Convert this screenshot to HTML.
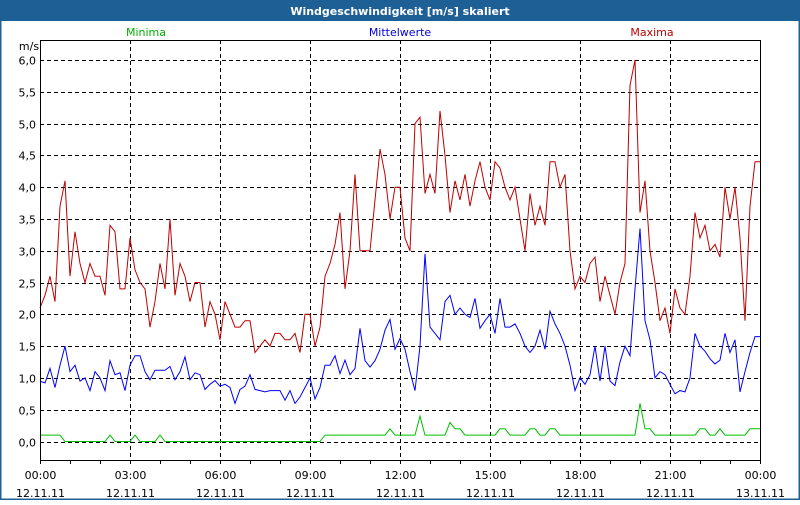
<!DOCTYPE html>
<html><head><meta charset="utf-8"><style>
html,body{margin:0;padding:0;background:#fff}
svg text{font-family:"DejaVu Sans","Liberation Sans",sans-serif;font-size:11px}
</style></head><body>
<svg id="c" width="800" height="500" xmlns="http://www.w3.org/2000/svg">
<rect x="0" y="0" width="800" height="500" fill="#fff"/>
<rect x="0.5" y="0.5" width="799" height="499" fill="none" stroke="#1e6096" stroke-width="2"/>
<rect x="0" y="0" width="800" height="21" fill="#1e6096"/>
<text x="400" y="15" text-anchor="middle" fill="#fff" font-weight="bold">Windgeschwindigkeit [m/s] skaliert</text>
<text x="146" y="36" text-anchor="middle" fill="#00b000">Minima</text>
<text x="400" y="36" text-anchor="middle" fill="#0000e0">Mittelwerte</text>
<text x="652" y="36" text-anchor="middle" fill="#c00000">Maxima</text>
<text x="29" y="50" text-anchor="middle" fill="#000">m/s</text>
<g id="grid"></g><g id="series"></g><g id="axes"></g>
</svg>
<script>
const yTicks=[0,0.5,1,1.5,2,2.5,3,3.5,4,4.5,5,5.5,6];
const xTickHours=[0,3,6,9,12,15,18,21,24];
const xTimeLabels=["00:00","03:00","06:00","09:00","12:00","15:00","18:00","21:00","00:00"];
const xDateLabels=["12.11.11","12.11.11","12.11.11","12.11.11","12.11.11","12.11.11","12.11.11","12.11.11","13.11.11"];
const maxima=[2.1,2.3,2.6,2.2,3.7,4.1, 2.6,3.3,2.8,2.5,2.8,2.6, 2.6,2.3,3.4,3.3,2.4,2.4, 3.2,2.7,2.5,2.4,1.8,2.2, 2.8,2.4,3.5,2.3,2.8,2.6, 2.2,2.5,2.5,1.8,2.2,2.0, 1.6,2.2,2.0,1.8,1.8,1.9, 1.9,1.4,1.5,1.6,1.5,1.7, 1.7,1.6,1.6,1.7,1.4,2.0, 2.0,1.5,1.8,2.6,2.8,3.1, 3.6,2.4,3.0,4.2,3.0,3.0, 3.0,3.8,4.6,4.2,3.5,4.0, 4.0,3.2,3.0,5.0,5.1,3.9, 4.2,3.9,5.2,4.5,3.6,4.1, 3.8,4.2,3.7,4.1,4.4,4.0, 3.8,4.4,4.3,4.0,3.8,4.0, 3.5,3.0,3.9,3.4,3.7,3.4, 4.4,4.4,4.0,4.2,3.0,2.4, 2.6,2.5,2.8,2.9,2.2,2.6, 2.3,2.0,2.5,2.8,5.6,6.0, 3.6,4.1,3.0,2.5,1.9,2.1, 1.7,2.4,2.1,2.0,2.6,3.6, 3.2,3.4,3.0,3.1,2.9,4.0, 3.5,4.0,3.2,1.9,3.7,4.4, 4.4];
const mittel=[0.95,0.92,1.15,0.85,1.2,1.5, 1.1,1.2,0.95,1.0,0.8,1.1, 1.0,0.8,1.27,1.05,1.08,0.8, 1.2,1.35,1.35,1.1,0.97,1.12, 1.12,1.12,1.18,0.97,1.1,1.33, 0.97,1.08,1.05,0.82,0.9,0.96, 0.87,0.9,0.85,0.6,0.82,0.87, 1.05,0.82,0.8,0.78,0.8,0.8, 0.8,0.65,0.8,0.6,0.7,0.85, 1.0,0.67,0.85,1.2,1.2,1.35, 1.07,1.28,1.05,1.15,1.78,1.27, 1.17,1.27,1.45,1.75,1.92,1.45, 1.62,1.45,1.1,0.8,1.5,2.95, 1.8,1.7,1.6,2.2,2.3,2.0, 2.1,2.0,1.95,2.25,1.78,1.9, 2.0,1.7,2.25,1.8,1.8,1.85, 1.7,1.5,1.4,1.5,1.75,1.45, 2.05,1.85,1.7,1.5,1.2,0.8, 1.0,0.9,1.05,1.5,0.95,1.5, 0.95,0.88,1.25,1.5,1.35,2.4, 3.35,1.9,1.6,1.0,1.1,1.05, 0.9,0.75,0.8,0.78,1.0,1.7, 1.5,1.42,1.3,1.22,1.28,1.7, 1.4,1.6,0.78,1.1,1.4,1.65, 1.65];
const minima=[0.1,0.1,0.1,0.1,0.1,0, 0,0,0,0,0,0, 0,0,0.1,0,0,0, 0,0.1,0,0,0,0, 0.1,0,0,0,0,0, 0,0,0,0,0,0, 0,0,0,0,0,0, 0,0,0,0,0,0, 0,0,0,0,0,0, 0,0,0,0.1,0.1,0.1, 0.1,0.1,0.1,0.1,0.1,0.1, 0.1,0.1,0.1,0.1,0.2,0.1, 0.1,0.1,0.1,0.1,0.4,0.1, 0.1,0.1,0.1,0.1,0.3,0.2, 0.2,0.1,0.1,0.1,0.1,0.1, 0.1,0.1,0.2,0.2,0.1,0.1, 0.1,0.1,0.2,0.2,0.1,0.1, 0.2,0.2,0.1,0.1,0.1,0.1, 0.1,0.1,0.1,0.1,0.1,0.1, 0.1,0.1,0.1,0.1,0.1,0.1, 0.6,0.2,0.2,0.1,0.1,0.1, 0.1,0.1,0.1,0.1,0.1,0.1, 0.2,0.2,0.1,0.1,0.2,0.1, 0.1,0.1,0.1,0.1,0.2,0.2, 0.2];

const NS="http://www.w3.org/2000/svg";
const L=40,R=760,T=40,B=460;
function xOfHour(h){return L+(R-L)*h/24;}
function xOfIndex(i,n){return L+(R-L)*i/(n-1);}
function yOf(v){return 441.5-v*(441.5-60)/6;}
function mk(tag,parent,attrs){const e=document.createElementNS(NS,tag);for(const k in attrs)e.setAttribute(k,attrs[k]);parent.appendChild(e);return e;}
const grid=document.getElementById('grid'),axes=document.getElementById('axes'),ser=document.getElementById('series');
yTicks.forEach(v=>{
  const y=Math.round(yOf(v))+0.5;
  const g=mk('line',grid,{x1:L,x2:R,y1:y,y2:y,stroke:'#000','stroke-dasharray':'4,3','stroke-width':1});
  
  
  const t=mk('text',axes,{x:36,y:y+4,'text-anchor':'end',fill:'#000'});
  t.textContent=v.toFixed(1).replace('.',',');
  
  
});
xTickHours.forEach((h,i)=>{
  const x=Math.round(xOfHour(h))+0.5;
  if(h>0&&h<24){
    const g=mk('line',grid,{x1:x,x2:x,y1:T,y2:B,stroke:'#000','stroke-dasharray':'4,3','stroke-width':1});
    
    
  }
  const t1=mk('text',axes,{x:x,y:479,'text-anchor':'middle',fill:'#000'});
  t1.textContent=xTimeLabels[i];
  
  
  const t2=mk('text',axes,{x:x,y:497,'text-anchor':'middle',fill:'#000'});
  t2.textContent=xDateLabels[i];
  
  
});
for(let h=0;h<=24;h++){
  const x=Math.round(xOfHour(h))+0.5;
  const tk=mk('line',axes,{x1:x,x2:x,y1:B,y2:B+4,stroke:'#000'});
  
  
}
const frame=mk('path',axes,{d:`M${L+0.5},${B}V${T+0.5}H${R+0.5}V${B+0.5}H${L}`,fill:'none',stroke:'#000'});


function line(data,color,name){
  const n=data.length;
  const d=data.map((v,i)=>(i?'L':'M')+xOfIndex(i,n).toFixed(1)+','+yOf(v).toFixed(1)).join('');
  const p=mk('path',ser,{d:d,fill:'none',stroke:color,'stroke-width':1});
  
  
}
line(minima,'#00c000','minima-line');
line(mittel,'#0000ff','mittelwerte-line');
line(maxima,'#c00000','maxima-line');
</script>
</body></html>
